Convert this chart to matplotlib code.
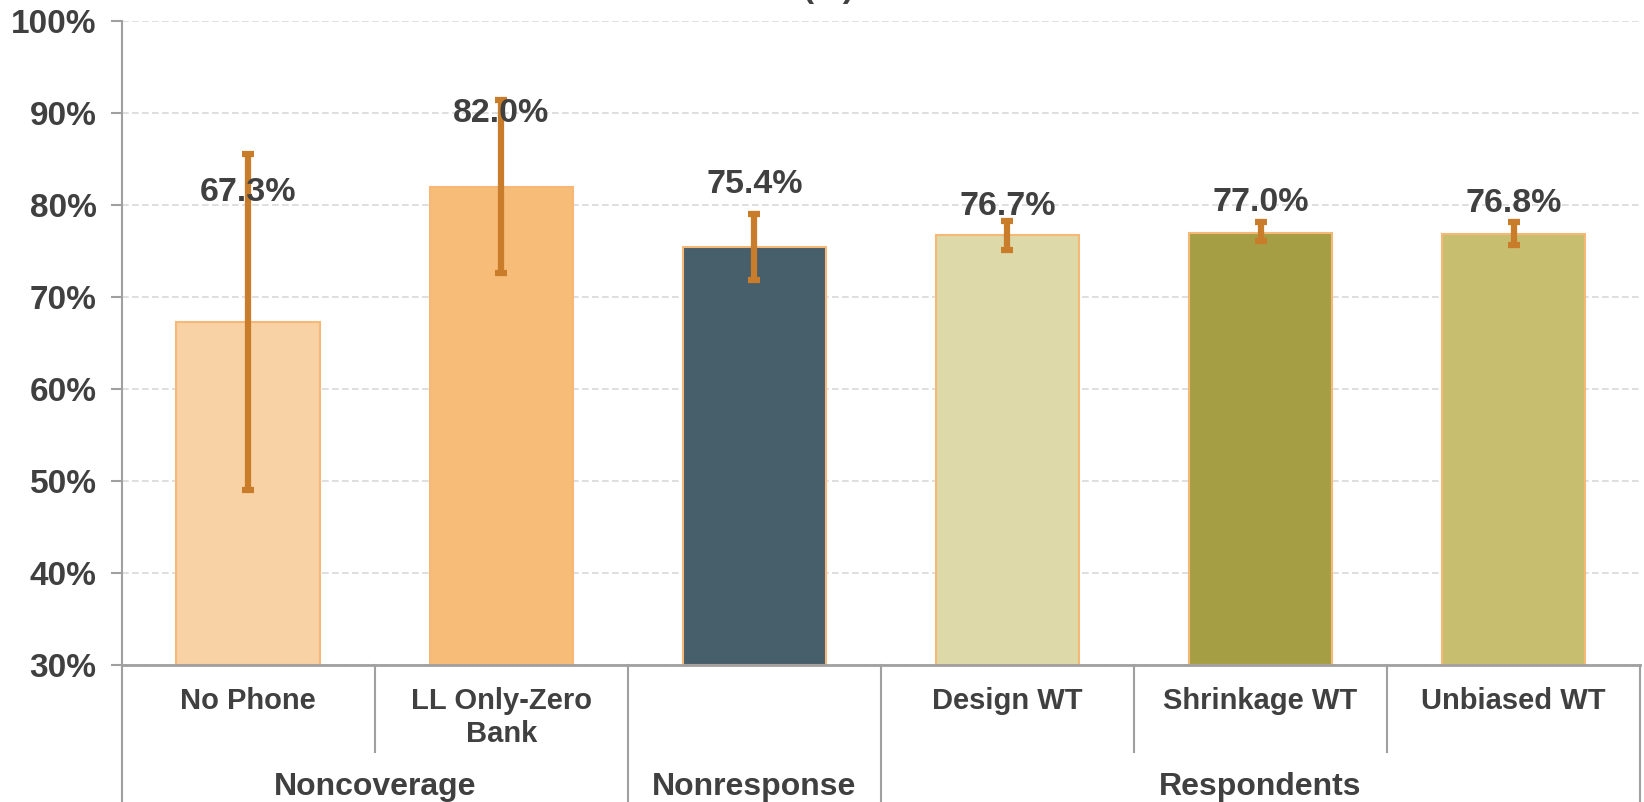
import numpy as np
import matplotlib
matplotlib.use("Agg")
import matplotlib.pyplot as plt

plt.rcParams['font.family'] = ['Liberation Sans', 'DejaVu Sans']
plt.rcParams['font.weight'] = 'bold'

categories = ["No Phone", "LL Only-Zero\nBank", "", "Design WT", "Shrinkage WT", "Unbiased WT"]
groups = ["Noncoverage", "Nonresponse", "Respondents"]
group_sizes = [2, 1, 3]
values = np.array([67.3, 82.0, 75.4, 76.7, 77.0, 76.8])
ci_low = np.array([49.0, 72.6, 71.8, 75.1, 76.1, 75.6])
ci_high = np.array([85.5, 91.4, 79.0, 78.3, 78.1, 78.1])
bar_colors = ["#F8D2A4", "#F7BC78", "#475E6B", "#DDD9A9", "#A69E44", "#C8BE6F"]
# where each value label sits (manually placed in the original)
label_y = [81.4, 90.0, 82.2, 79.8, 80.3, 80.2]

text_c = "#404040"
axis_c = "#A0A0A0"
err_c = "#C97D2A"

fig = plt.figure(figsize=(16.44, 8.02), dpi=100)
ax = fig.add_axes([0.074, 0.1708, 0.9237, 0.803])

x = np.arange(len(values))
ax.bar(x, values - 30, bottom=30, width=0.567, color=bar_colors,
       edgecolor="#F6B877", linewidth=1.5, zorder=2)
ax.errorbar(x, values, yerr=[values - ci_low, ci_high - values], fmt='none',
            ecolor=err_c, elinewidth=4.5, capsize=4.3, capthick=4.5, zorder=3)
for xi, v, ly in zip(x, values, label_y):
    ax.text(xi, ly, f"{v:.1f}%", ha='center', va='center', fontsize=24.5,
            color=text_c, fontweight='bold', zorder=4)

ax.set_xlim(-0.5, len(values) - 0.5)
ax.set_ylim(30, 100)
ax.set_yticks(np.arange(30, 101, 10))
ax.set_yticklabels([f"{t}%" for t in range(30, 101, 10)], fontsize=24, color=text_c)
ax.tick_params(axis='y', length=8, width=1.5, color=axis_c, pad=10)
ax.set_xticks([])
ax.yaxis.grid(True, linestyle=(0, (4, 2)), color="#D9D9D9", linewidth=1.2, zorder=0)
for s in ['top', 'right']:
    ax.spines[s].set_visible(False)
ax.spines['left'].set_color(axis_c)
ax.spines['left'].set_linewidth(1.5)
ax.spines['bottom'].set_color(axis_c)
ax.spines['bottom'].set_linewidth(2)

tr = ax.get_xaxis_transform()
# category labels
for xi, c in zip(x, categories):
    ax.text(xi, -0.034, c, transform=tr, ha='center', va='top', fontsize=21,
            color=text_c, linespacing=1.25)
# dividers
bounds = np.cumsum([0] + group_sizes) - 0.5
for b in np.arange(-0.5, len(values) + 0.5):
    full = np.any(np.isclose(bounds, b))
    ax.plot([b, b], [0, -0.215 if full else -0.135], transform=tr, color=axis_c,
            linewidth=1.5, clip_on=False)
for i, g in enumerate(groups):
    ax.text((bounds[i] + bounds[i + 1]) / 2, -0.19, g, transform=tr, ha='center',
            va='center', fontsize=23, color=text_c)

fig.text(0.504, 1.004, "(%)", ha='center', va='baseline', fontsize=24, color=text_c)

fig.savefig("out.png", dpi=100)
